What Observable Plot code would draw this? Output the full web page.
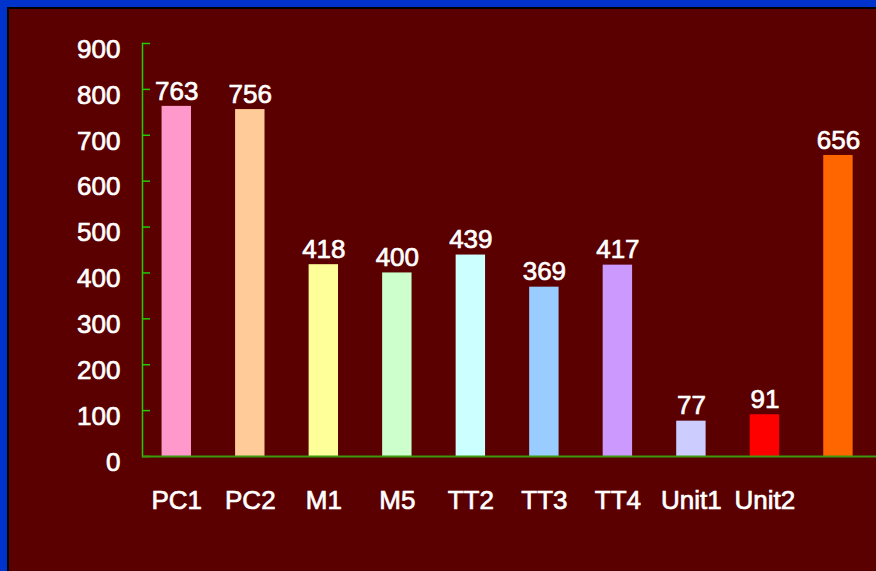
<!DOCTYPE html>
<html>
<head>
<meta charset="utf-8">
<script src="https://cdn.jsdelivr.net/npm/d3@7"></script>
<script src="https://cdn.jsdelivr.net/npm/@observablehq/plot@0.6"></script>
<style>
  html, body { margin: 0; padding: 0; }
  body { width: 876px; height: 571px; background: #0033cc; position: relative; overflow: hidden; }
  #panel { position: absolute; left: 7px; top: 7px; right: 0; bottom: 0; background: #5a0000; border-left: 2px solid #000; border-top: 2px solid #000; }
  #chart { position: absolute; left: 0; top: 0; }
  #chart svg { background: transparent; overflow: visible; }
  #chart svg text { stroke: white; stroke-width: 0.7px; }
</style>
</head>
<body>
<div id="panel"></div>
<div id="chart"></div>
<script>
const categories = ["PC1", "PC2", "M1", "M5", "TT2", "TT3", "TT4", "Unit1", "Unit2", "Other"];
const tickLabels = ["PC1", "PC2", "M1", "M5", "TT2", "TT3", "TT4", "Unit1", "Unit2", ""];
const values = [763, 756, 418, 400, 439, 369, 417, 77, 91, 656];
const colors = ["#ff99cc", "#ffcc99", "#ffff99", "#ccffcc", "#ccffff", "#99ccff", "#cc99ff", "#ccccff", "#ff0000", "#ff6600"];
const yTicks = [0, 100, 200, 300, 400, 500, 600, 700, 800, 900];

const data = categories.map((c, i) => ({cat: c, value: values[i], color: colors[i]}));
const labelOf = new Map(categories.map((c, i) => [c, tickLabels[i]]));
const axisGreen = "#22cc00";
const font = "Liberation Sans, Arial, sans-serif";

const plot = Plot.plot({
  width: 876,
  height: 571,
  marginLeft: 142,
  marginRight: 0,
  marginTop: 43,
  marginBottom: 115,
  style: {background: "transparent", color: "white", fontFamily: font, fontSize: "26px"},
  x: {domain: categories, padding: 0.6, paddingOuter: 0.292, align: 0.456, round: false, label: null},
  y: {domain: [0, 900], label: null},
  marks: [
    Plot.axisY({ticks: yTicks, tickSize: 0, tickPadding: 22, dy: 6, fontSize: 26, fill: "white", label: null}),
    Plot.axisX({tickSize: 0, tickPadding: 34, fontSize: 26, fill: "white", tickFormat: d => labelOf.get(d), label: null}),
    Plot.barY(data, {x: "cat", y: "value", fill: "color"}),
    Plot.text(data, {x: "cat", y: "value", text: d => String(d.value), dy: -15, fill: "white", fontSize: 26, fontFamily: font}),
    Plot.frame({anchor: "left", stroke: axisGreen, strokeWidth: 1.5}),
    Plot.tickY(yTicks, {y: d => d, stroke: axisGreen, strokeWidth: 1.5, insetRight: 726}),
    Plot.ruleY([0], {stroke: "#3a9a10", strokeWidth: 2})
  ]
});
document.getElementById("chart").appendChild(plot);
</script>
</body>
</html>
